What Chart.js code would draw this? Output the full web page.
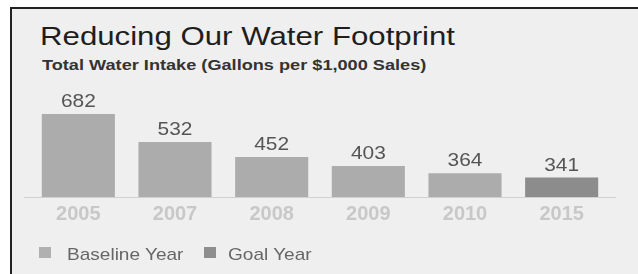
<!DOCTYPE html>
<html>
<head>
<meta charset="utf-8">
<script src="https://cdn.jsdelivr.net/npm/chart.js@4/dist/chart.umd.min.js"></script>
<style>
  body { margin: 0; background: #fff; font-family: "Liberation Sans", Arial, sans-serif; }
  #wrap { position: relative; width: 638px; height: 274px; overflow: hidden; }
  #panel { position: absolute; left: 10px; top: 7px; width: 628px; height: 267px;
    background: #efefef; border-top: 2px solid #222; border-left: 2px solid #222; box-sizing: border-box; }
  .txt { position: absolute; white-space: nowrap; transform-origin: left top; }
  #title { left: 40px; top: 23px; font-size: 26px; line-height: 26px; color: #1e1e1e; transform: scaleX(1.2); }
  #subtitle { left: 42px; top: 57px; font-size: 15px; line-height: 15px; font-weight: bold; color: #333; transform: scaleX(1.21); }
  .leg { position: absolute; top: 246px; font-size: 17px; line-height: 17px; color: #666; white-space: nowrap; transform-origin: left top; transform: scaleX(1.12); }
  .legbox { position: absolute; top: 247px; width: 12px; height: 11px; }
  canvas { position: absolute; left: 0; top: 0; }
</style>
</head>
<body>
<div id="wrap">
  <div id="panel"></div>
  <div class="txt" id="title">Reducing Our Water Footprint</div>
  <div class="txt" id="subtitle">Total Water Intake (Gallons per $1,000 Sales)</div>
  <canvas id="waterChart" width="638" height="274"></canvas>
</div>
<script>
const years = ["2005", "2007", "2008", "2009", "2010", "2015"];
const intake = [682, 532, 452, 403, 364, 341];
const yearType = ["Baseline", "Baseline", "Baseline", "Baseline", "Baseline", "Goal"];
const legendNames = ["Baseline Year", "Goal Year"];

const typeColor = { Baseline: "#acacac", Goal: "#8c8c8c" };
const legendColor = ["#b0b0b0", "#8e8e8e"];

// html legend, two items along the bottom
const wrap = document.getElementById("wrap");
const legBoxX = [39, 204];
const legTextX = [67, 228];
legendNames.forEach(function (name, i) {
  const box = document.createElement("div");
  box.className = "legbox";
  box.style.left = legBoxX[i] + "px";
  box.style.background = legendColor[i];
  const lab = document.createElement("div");
  lab.className = "leg";
  lab.style.left = legTextX[i] + "px";
  lab.textContent = name;
  wrap.appendChild(box);
  wrap.appendChild(lab);
});

// value labels above the bars + axis line
const barValues = {
  id: "barValues",
  afterDatasetsDraw(chart) {
    const ctx = chart.ctx;
    const area = chart.chartArea;
    ctx.save();
    ctx.strokeStyle = "#d0d0d0";
    ctx.lineWidth = 1;
    ctx.beginPath();
    ctx.moveTo(area.left - 6, area.bottom + 0.5);
    ctx.lineTo(area.right + 6, area.bottom + 0.5);
    ctx.stroke();

    ctx.fillStyle = "#555";
    ctx.font = "19px 'Liberation Sans', Arial, sans-serif";
    ctx.textAlign = "center";
    ctx.textBaseline = "alphabetic";
    chart.getDatasetMeta(0).data.forEach(function (bar, i) {
      ctx.save();
      ctx.translate(bar.x, bar.y - 7);
      ctx.scale(1.1, 1);
      ctx.fillText(String(intake[i]), 0, 0);
      ctx.restore();
    });
    ctx.restore();
  },
};

const ctx = document.getElementById("waterChart").getContext("2d");
new Chart(ctx, {
  type: "bar",
  data: {
    labels: years,
    datasets: [
      {
        label: "Total Water Intake",
        data: intake,
        backgroundColor: yearType.map(function (t) { return typeColor[t]; }),
        barPercentage: 0.756,
        categoryPercentage: 1,
      },
    ],
  },
  options: {
    responsive: false,
    animation: false,
    layout: { padding: { left: 30, right: 28, top: 92, bottom: 43 } },
    plugins: { legend: { display: false }, tooltip: { enabled: false } },
    scales: {
      x: {
        grid: { display: false, drawTicks: false },
        border: { display: false },
        ticks: {
          padding: 5,
          color: "#c8c8c8",
          font: { family: "'Liberation Sans', Arial, sans-serif", size: 20, weight: "bold" },
        },
      },
      y: { display: false, min: 237, max: 800 },
    },
  },
  plugins: [barValues],
});
</script>
</body>
</html>
